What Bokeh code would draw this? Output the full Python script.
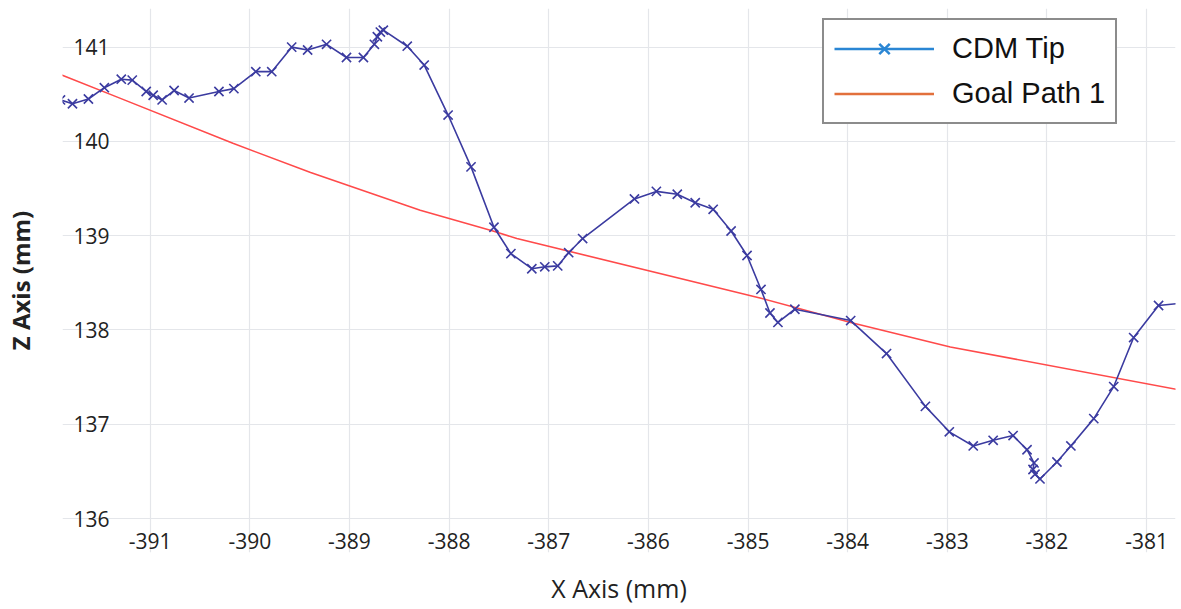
import math
from bokeh.plotting import figure
from bokeh.models import Range1d, FixedTicker, Legend, LegendItem, ColumnDataSource, PrintfTickFormatter
from bokeh.embed import file_html
from bokeh.resources import INLINE

# CDM tip measured trajectory (X, Z in mm)
cdm_x = [-391.90, -391.78, -391.62, -391.46, -391.29, -391.18, -391.04, -390.97, -390.88,
         -390.76, -390.61, -390.31, -390.16, -389.94, -389.78, -389.58, -389.42, -389.23,
         -389.03, -388.86, -388.75, -388.72, -388.69, -388.66, -388.42, -388.25, -388.01,
         -387.78, -387.55, -387.38, -387.17, -387.04, -386.91, -386.80, -386.66, -386.14,
         -385.92, -385.71, -385.53, -385.35, -385.17, -385.01, -384.87, -384.78, -384.70,
         -384.53, -383.97, -383.61, -383.22, -382.98, -382.74, -382.54, -382.34, -382.20,
         -382.13, -382.14, -382.12, -382.07, -381.90, -381.76, -381.53, -381.33, -381.13,
         -380.88, -380.60]
cdm_z = [140.44, 140.40, 140.45, 140.57, 140.66, 140.65, 140.53, 140.49, 140.44,
         140.54, 140.46, 140.53, 140.56, 140.74, 140.74, 141.00, 140.97, 141.03,
         140.89, 140.89, 141.03, 141.11, 141.16, 141.18, 141.01, 140.81, 140.28,
         139.73, 139.09, 138.81, 138.65, 138.67, 138.68, 138.82, 138.97, 139.39,
         139.47, 139.44, 139.35, 139.28, 139.05, 138.79, 138.43, 138.18, 138.08,
         138.22, 138.10, 137.75, 137.19, 136.92, 136.77, 136.83, 136.88, 136.73,
         136.59, 136.52, 136.47, 136.42, 136.60, 136.77, 137.06, 137.40, 137.92,
         138.26, 138.29]

# Goal path 1
goal_x = [-391.90, -391.33, -390.17, -389.39, -388.29, -387.56, -387.32, -384.88,
          -383.97, -382.97, -380.70]
goal_z = [140.71, 140.47, 139.98, 139.67, 139.27, 139.05, 138.97, 138.34,
          138.08, 137.82, 137.37]

x_ticks = [-391, -390, -389, -388, -387, -386, -385, -384, -383, -382, -381]
z_ticks = [136, 137, 138, 139, 140, 141]

p = figure(width=1180, height=607,
           x_range=Range1d(-391.88, -380.71), y_range=Range1d(135.64, 141.41),
           output_backend="svg", toolbar_location=None,
           min_border_left=62, min_border_right=5, min_border_top=8, min_border_bottom=54)

p.outline_line_color = None
p.background_fill_color = "white"
p.border_fill_color = "white"

p.xaxis.ticker = FixedTicker(ticks=x_ticks)
p.yaxis.ticker = FixedTicker(ticks=z_ticks)
p.xaxis.formatter = PrintfTickFormatter(format="%d")
p.yaxis.formatter = PrintfTickFormatter(format="%d")
p.xgrid.grid_line_color = "#e4e6ea"
p.ygrid.grid_line_color = "#e4e6ea"
p.xgrid.grid_line_width = 1.2
p.ygrid.grid_line_width = 1.2

for ax in (p.xaxis, p.yaxis):
    ax.axis_line_color = None
    ax.major_tick_line_color = None
    ax.minor_tick_line_color = None
    ax.major_label_text_font = "Open Sans"
    ax.major_label_text_font_size = "21px"
    ax.major_label_text_color = "#222222"

p.xaxis.major_label_standoff = -26
p.yaxis.major_label_standoff = -53

p.xaxis.axis_label = "X Axis (mm)"
p.xaxis.axis_label_text_font = "Open Sans"
p.xaxis.axis_label_text_font_size = "25px"
p.xaxis.axis_label_text_font_style = "normal"
p.xaxis.axis_label_text_color = "#222222"
p.xaxis.axis_label_standoff = 19

p.yaxis.axis_label = "Z Axis (mm)"
p.yaxis.axis_label_text_font = "Open Sans"
p.yaxis.axis_label_text_font_size = "24px"
p.yaxis.axis_label_text_font_style = "bold"
p.yaxis.axis_label_text_color = "#222222"
p.yaxis.axis_label_standoff = 33

p.line(goal_x, goal_z, line_color="#ff4a4a", line_width=1.6)
p.line(cdm_x, cdm_z, line_color="#3b3ba0", line_width=1.6)
p.scatter(cdm_x, cdm_z, marker="x", size=13, line_color="#3b3ba0", line_width=1.6)

# legend swatches (drawn in the legend only; NaN data never shows in the plot)
nan_src = ColumnDataSource(data=dict(x=[math.nan], y=[math.nan]))
leg_line1 = p.line("x", "y", source=nan_src, line_color="#2a86d4", line_width=2.5)
leg_mark1 = p.scatter("x", "y", source=nan_src, marker="x", size=20, line_color="#2a86d4", line_width=2.5)
leg_line2 = p.line("x", "y", source=nan_src, line_color="#e2703c", line_width=2.5)

legend = Legend(items=[LegendItem(label="CDM Tip", renderers=[leg_line1, leg_mark1]),
                       LegendItem(label="Goal Path 1", renderers=[leg_line2])],
                location=(760, 428))
legend.label_text_font = "Liberation Sans"
legend.label_text_font_size = "29px"
legend.label_text_color = "#111111"
legend.glyph_width = 100
legend.glyph_height = 37
legend.label_height = 37
legend.label_standoff = 18
legend.spacing = 8
legend.padding = 10
legend.margin = 0
legend.border_line_color = "#1a1a1a"
legend.border_line_width = 2
legend.background_fill_color = "white"
legend.background_fill_alpha = 1.0
p.add_layout(legend, "center")

open("out.html", "w").write(file_html(p, INLINE))
